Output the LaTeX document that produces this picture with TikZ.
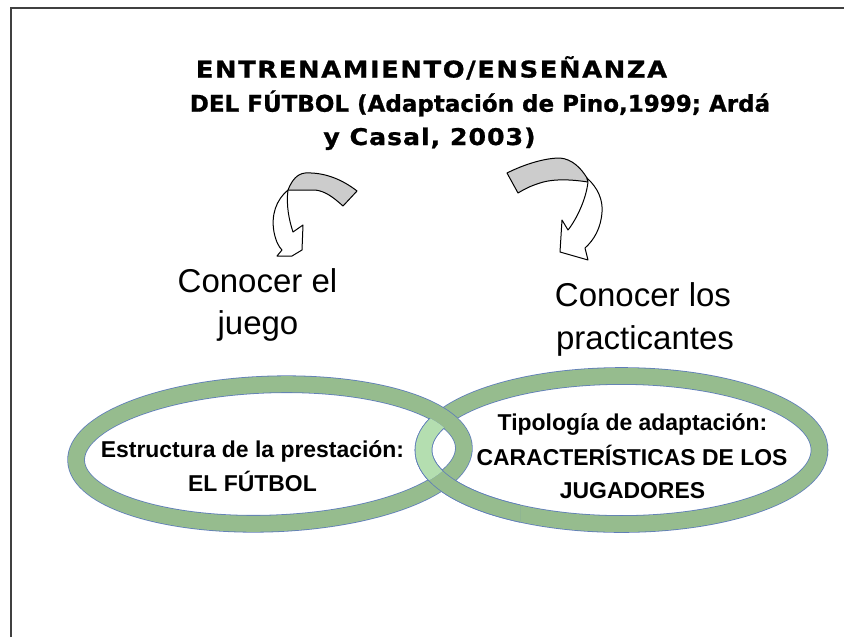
\documentclass[tikz,border=0pt]{standalone}
\usepackage{fontspec}
\setmainfont{Liberation Sans}
\newfontfamily\titlefont{DejaVu Sans}[BoldFeatures={FakeBold=0.9}]

\definecolor{ringgreen}{RGB}{150,188,142}
\definecolor{ringlight}{RGB}{180,222,176}
\definecolor{ringedge}{RGB}{95,125,185}
\definecolor{arrowgray}{RGB}{204,204,204}
\definecolor{framegray}{RGB}{64,64,64}

\tikzset{
  titletext/.style={anchor=base, inner sep=0pt, font=\titlefont\bfseries\fontsize{17.25pt}{20pt}\selectfont},
  conocer/.style={anchor=base, inner sep=0pt, font=\fontsize{24.75pt}{28pt}\selectfont},
  ringtext/.style={anchor=base, inner sep=0pt, font=\bfseries\fontsize{17.2pt}{20pt}\selectfont},
  ring/.style={draw=ringedge, line width=0.6pt, double=ringgreen, double distance=12pt},
  bentarrow/.style={draw=black, line width=0.75pt, line join=round}
}

\begin{document}
\begin{tikzpicture}[x=0.75pt, y=-0.75pt]
    % Picture size in pixels
    \useasboundingbox (0,0) rectangle (844,637);

    % Centres and radii of the two rings
    \def\lx{270}  \def\ly{454}  \def\lrx{194}   \def\lry{69.5}
    \def\rx{621.5} \def\ry{450} \def\rrx{198}  \def\rry{74}

    % Frame (only top and left are visible)
    \draw[framegray, line width=1.5pt] (11,637) -- (11,8) -- (844,8);

    % Title
    \node[titletext] (titulo1) at (431.5,77.5) {\addfontfeature{FakeStretch=1.12,LetterSpace=7}ENTRENAMIENTO/ENSEÑANZA};
    \node[titletext] (titulo2) at (480,111.7) {DEL FÚTBOL (Adaptación de Pino,1999; Ardá};
    \node[titletext] (titulo3) at (429.5,145) {\addfontfeature{FakeStretch=1.1,LetterSpace=4}y Casal, 2003)};

    % Left bent arrow: back (gray) and front (white)
    \filldraw[bentarrow, fill=arrowgray] (288,190) .. controls (292,180) and (297,174) .. (305,173) .. controls (325,172) and (343,180) .. (357,191) -- (343,206) .. controls (333,197) and (325,191) .. (315,190) -- cycle;
    \filldraw[bentarrow, fill=white] (288,190) .. controls (276,200) and (271,215) .. (274,232) .. controls (276,242) and (279,247) .. (282,250) -- (277,256) -- (292,256) -- (302,250) -- (303,225) -- (293,232) .. controls (289,220) and (286,205) .. (288,190) -- cycle;

    % Right bent arrow: back (gray) and front (white)
    \filldraw[bentarrow, fill=arrowgray] (507,173) .. controls (525,164) and (545,158) .. (560,158) .. controls (572,159) and (581,168) .. (587,178) -- (588,182) .. controls (575,180) and (555,178) .. (540,183) .. controls (530,186) and (523,190) .. (518,193) -- cycle;
    \filldraw[bentarrow, fill=white] (587,178) .. controls (598,188) and (603,200) .. (602,212) .. controls (601,228) and (594,240) .. (585,248) -- (588,260) -- (560,252) -- (562,220) -- (568,230) .. controls (576,220) and (586,200) .. (588,182) -- cycle;

    % Labels under the arrows
    \node[conocer] (juego1) at (257.5,292) {Conocer el};
    \node[conocer] (juego2) at (258,334) {juego};
    \node[conocer] (practic1) at (643,306) {Conocer los};
    \node[conocer] (practic2) at (645,349) {practicantes};

    % Rings: right one first, left one over it at the top crossing
    \draw[ring] (\rx,\ry) ellipse [x radius=\rrx, y radius=\rry];
    \draw[ring, rotate around={2:(\lx,\ly)}] (\lx,\ly) ellipse [x radius=\lrx, y radius=\lry];

    % Right ring passes over the left one at the bottom crossing
    \begin{scope}
      \clip (400,458) rectangle (520,560);
      \draw[ring] (\rx,\ry) ellipse [x radius=\rrx, y radius=\rry];
    \end{scope}

    % Lighter part of the right ring inside the left ring
    \begin{scope}
      \clip[rotate around={2:(\lx,\ly)}] (\lx,\ly) ellipse [x radius=\lrx-8.5, y radius=\lry-8.5];
      \draw[ring, double=ringlight] (\rx,\ry) ellipse [x radius=\rrx, y radius=\rry];
    \end{scope}

    % Texts inside the rings
    \node[ringtext] (estructura) at (252.5,457.3) {Estructura de la prestación:};
    \node[ringtext] (futbol) at (252.5,491.7) {EL FÚTBOL};
    \node[ringtext] (tipologia) at (632.5,430) {Tipología de adaptación:};
    \node[ringtext] (caracteristicas) at (632,465) {CARACTERÍSTICAS DE LOS};
    \node[ringtext] (jugadores) at (632.5,498) {JUGADORES};
\end{tikzpicture}
\end{document}
